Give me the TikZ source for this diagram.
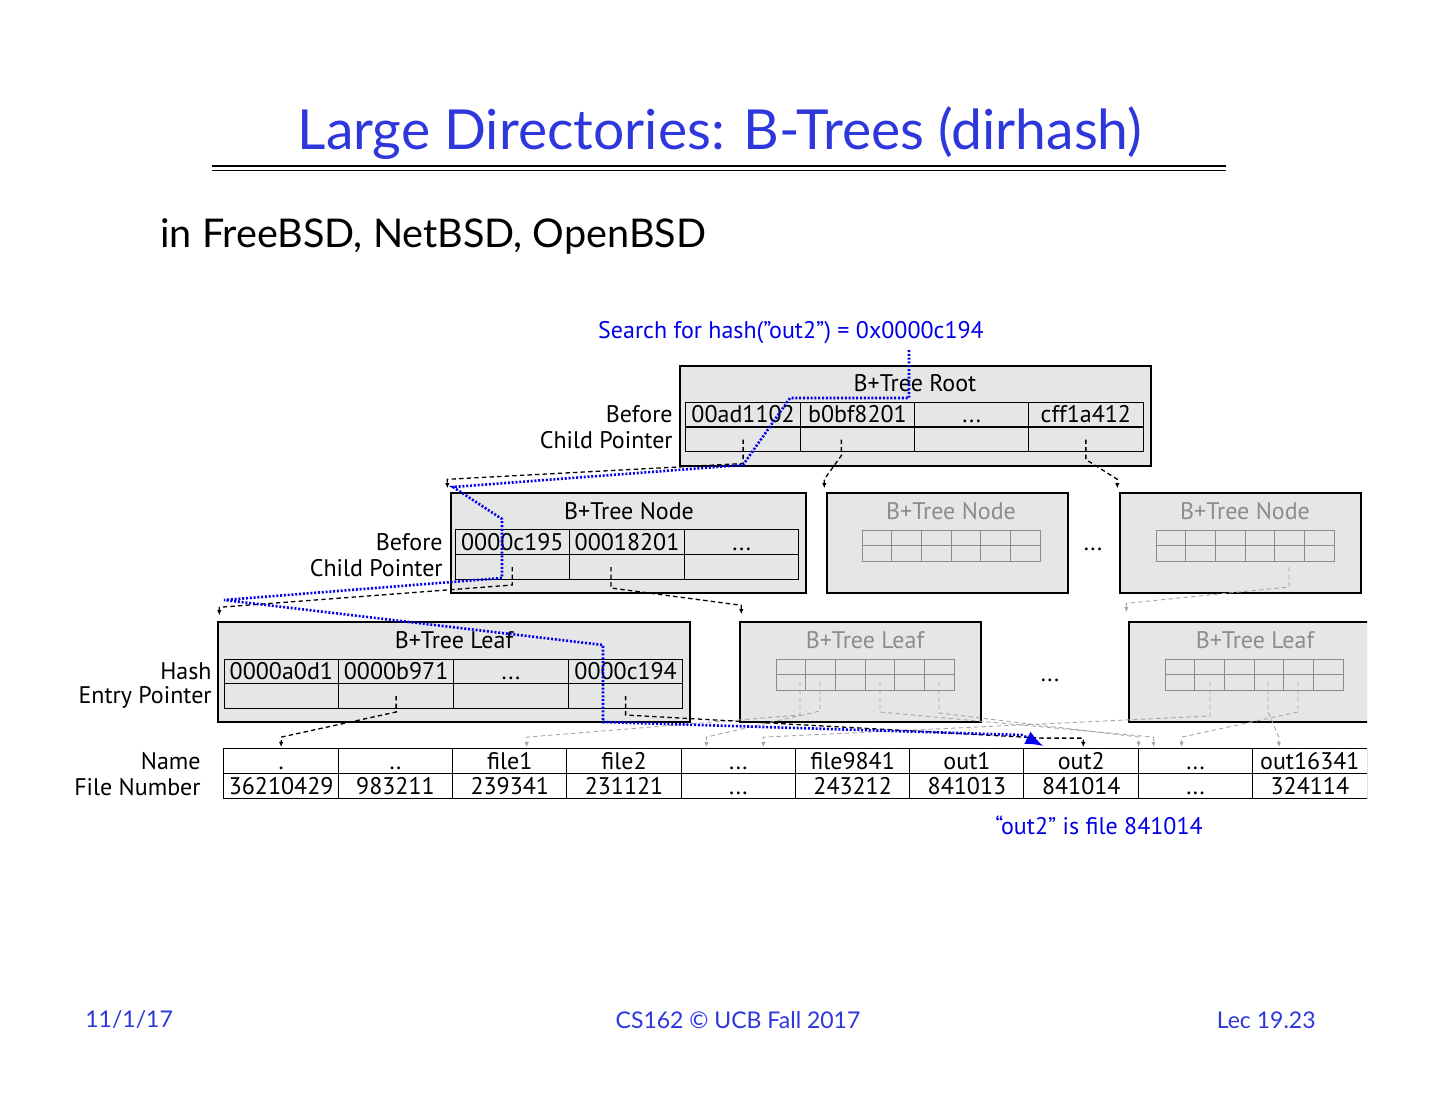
\documentclass[tikz,border=0pt]{standalone}
\usepackage{fontspec}
\setmainfont{PT Sans}
\newfontfamily\slidefont{Lato}
\usepackage{xcolor}
\usetikzlibrary{fit,calc,arrows.meta,positioning}
\definecolor{slideblue}{RGB}{45,55,220}
\definecolor{noteblue}{RGB}{0,0,235}
\definecolor{boxgray}{RGB}{230,230,230}
\definecolor{fadetext}{RGB}{140,140,140}
\definecolor{fadeline}{RGB}{165,165,165}
\newcommand{\diagfont}{\fontsize{12}{14}\selectfont}
\newcommand{\ellip}{...}
\tikzset{
  treebox/.style   = {draw=black, fill=boxgray, line width=0.7pt, inner sep=0pt},
  boxtitle/.style  = {font=\diagfont, inner sep=0pt},
  fadetitle/.style = {boxtitle, text=fadetext},
  cell/.style      = {draw=black, line width=0.5pt, minimum width=57.3pt,
                      minimum height=12.4pt, inner sep=0pt, font=\diagfont,
                      text height=9.6pt, text depth=1.2pt},
  rowlab/.style    = {font=\diagfont, anchor=east, inner sep=0pt},
  minigrid/.style  = {draw=fadetext, line width=0.45pt},
  ptr/.style       = {-{Latex[length=2.6pt,width=2.2pt]}, line width=0.65pt,
                      dash pattern=on 2.2pt off 1.6pt},
  fadeptr/.style   = {ptr, fadeline, line width=0.45pt},
  search/.style    = {-{Latex[length=9pt,width=7pt]}, noteblue, line width=1.3pt,
                      dash pattern=on 1pt off 0.9pt},
  note/.style      = {font=\diagfont, text=noteblue, inner sep=0pt},
  slidetext/.style = {font=\slidefont\fontsize{11.5}{14}\selectfont, text=slideblue, inner sep=0pt},
}
\begin{document}
\begin{tikzpicture}[x=0.5pt,y=-0.5pt]
\useasboundingbox[fill=white] (0,0) rectangle (1440,1113);

\node[font=\slidefont\fontsize{27.6}{32}\selectfont, text=slideblue] (title) at (720,133) {Large Directories: B-Trees (dirhash)};
\draw[line width=0.9pt] (212,166) -- (1226,166) (212,170.5) -- (1226,170.5);
\node[font=\slidefont\fontsize{19.8}{24}\selectfont, anchor=west, inner sep=0pt] (sub) at (160,236) {in FreeBSD, NetBSD, OpenBSD};

\node[note] (query) at (791,333) {Search for hash(”out2”) = 0x0000c194};

% root
\node[treebox, fit={(680,366) (1151,466)}] (root) {};
\node[boxtitle] (roottitle) at (915,383) {B+Tree Root};
\foreach \k [count=\i] in {00ad1102,b0bf8201,\ellip,cff1a412} {
  \node[cell] (rk\i) at ({686+(\i-0.5)*114.25},414.5) {\k};
  \node[cell] (rp\i) at ({686+(\i-0.5)*114.25},439.5) {};
}
\node[rowlab] (rootlab1) at (673,414) {Before};
\node[rowlab] (rootlab2) at (673,440) {Child Pointer};

% inner nodes
\node[treebox, fit={(451,493) (806,593)}] (node1) {};
\node[boxtitle] (node1title) at (629,511) {B+Tree Node};
\foreach \k [count=\i] in {0000c195,00018201,\ellip} {
  \node[cell] (nk\i) at ({455+(\i-0.5)*114.67},542) {\k};
  \node[cell] (np\i) at ({455+(\i-0.5)*114.67},567) {};
}
\node[rowlab] (node1lab1) at (443,542) {Before};
\node[rowlab] (node1lab2) at (443,568) {Child Pointer};
\node[treebox, fit={(827,493) (1068,593)}] (node2) {};
\node[fadetitle] (node2title) at (951,511) {B+Tree Node};
\node[treebox, fit={(1120,493) (1361,593)}] (node3) {};
\node[fadetitle] (node3title) at (1245,511) {B+Tree Node};
\node[boxtitle] (nodedots) at (1093,549) {...};

% leaves
\node[treebox, fit={(218,622) (690,722)}] (leaf1) {};
\node[boxtitle] (leaf1title) at (454,640) {B+Tree Leaf};
\foreach \k [count=\i] in {0000a0d1,0000b971,\ellip,0000c194} {
  \node[cell] (lk\i) at ({224+(\i-0.5)*114.75},671.5) {\k};
  \node[cell] (lp\i) at ({224+(\i-0.5)*114.75},696) {};
}
\node[rowlab] (leaf1lab1) at (212,671) {Hash};
\node[rowlab] (leaf1lab2) at (212,697) {Entry Pointer};
\node[treebox, fit={(740,622) (981,722)}] (leaf2) {};
\node[fadetitle] (leaf2title) at (865,640) {B+Tree Leaf};
\node[boxtitle] (leafdots) at (1050,680) {...};

\begin{scope}
\clip (0,0) rectangle (1367,1113);
\node[treebox, fit={(1129,622) (1385,722)}] (leaf3) {};
\node[fadetitle] (leaf3title) at (1255,640) {B+Tree Leaf};
% directory entries
\foreach \n/\f [count=\i] in {{.}/36210429,{..}/983211,file1/239341,file2/231121,\ellip/\ellip,
    file9841/243212,out1/841013,out2/841014,\ellip/\ellip,out16341/324114} {
  \node[cell, fill=white] (nm\i) at ({224+(\i-0.5)*114.3},761) {\n};
  \node[cell, fill=white] (fn\i) at ({224+(\i-0.5)*114.3},786) {\f};
}
\end{scope}
\node[rowlab] (namelab) at (201,761) {Name};
\node[rowlab] (fnlab) at (201,787) {File Number};

\foreach \mx/\my in {862/530, 1156/530, 776/659, 1165/659} {
  \draw[minigrid] (\mx,\my) rectangle ++(178,31);
  \draw[minigrid] ({\mx},{\my+15.5}) -- ++(178,0);
  \foreach \j in {1,...,5}
    \draw[minigrid] ({\mx+\j*29.67},\my) -- ++(0,31);
}

% faded pointers
\coordinate (g1) at (800,682);
\coordinate (g2) at (820,682);
\coordinate (g3) at (880,682);
\coordinate (g4) at (939,682);
\coordinate (g5) at (1210,682);
\coordinate (g6) at (1268,682);
\coordinate (g7) at (1298,682);
\coordinate (n3p) at (1289,567);
\foreach \g/\dy/\c/\dx in {g1/33/nm3/17, g2/29/nm5/-32, g3/30/nm9/-42, g4/31/nm9/-57,
    g5/34/nm5/25, g6/30/nm10/-31, g7/30/nm9/-14}
  \draw[fadeptr] (\g) -- ++(0,\dy) -- ($(\c.north)+(\dx,-11)$) -- ($(\c.north)+(\dx,-1)$);
\draw[fadeptr] (n3p) -- ++(0,20) -- ($(leaf3.north west)+(-2,-18)$) -- ($(leaf3.north west)+(-2,-9)$);

% child pointers
\draw[ptr] (rp1.center) -- ++(0,24) -- ($(node1.north west)+(-3,-13)$) -- ($(node1.north west)+(-3,-4)$);
\draw[ptr] ($(rp2.center)+(-16,0)$) -- ++(0,16) -- ($(node2.north west)+(-2,-13)$) -- ($(node2.north west)+(-2,-4)$);
\draw[ptr] (rp4.center) -- ++(0,20) -- ($(node3.north west)+(-2,-13)$) -- ($(node3.north west)+(-2,-4)$);
\draw[ptr] (np1.center) -- ++(0,18) -- ($(leaf1.north west)+(2,-14)$) -- ($(leaf1.north west)+(2,-6)$);
\draw[ptr] ($(np2.center)+(-16,0)$) -- ++(0,21) -- ($(leaf2.north west)+(2,-16)$) -- ($(leaf2.north west)+(2,-7)$);
\draw[ptr] (lp2.center) -- ++(0,16) -- ($(nm1.north)+(0,-11)$) -- ($(nm1.north)+(0,-1)$);
\draw[ptr] (lp4.center) -- ++(0,19) -- ($(nm8.north)+(-40,-10)$) -- ($(nm8.north)+(2,-10)$) -- ($(nm8.north)+(2,-1)$);

% search path
\coordinate (qstart) at (909,350);
\draw[search] (qstart) -- (909,398) -- (790,398) -- (743,465) -- (453,487) -- (502,519)
  -- (502,578) -- (224,600) -- (603,645) -- (603,722) -- (1022,735) -- ($(nm8.north west)+(20,-2)$);

\node[note] (answer) at (1099,825) {“out2” is file 841014};

\node[slidetext, anchor=west] (date) at (85,1020) {11/1/17};
\node[slidetext] (course) at (738,1020) {CS162 © UCB Fall 2017};
\node[slidetext, anchor=east] (lec) at (1316,1020) {Lec 19.23};
\end{tikzpicture}
\end{document}
